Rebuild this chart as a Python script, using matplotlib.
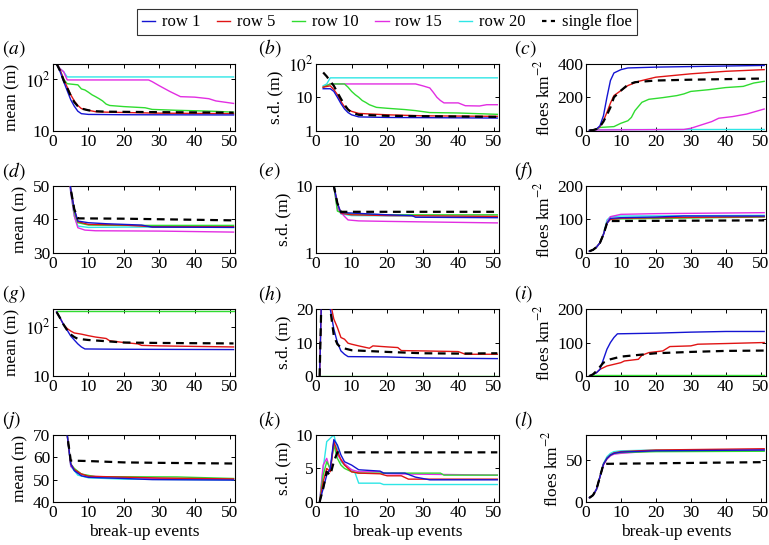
import numpy as np
import matplotlib
matplotlib.use("Agg")
import matplotlib.pyplot as plt
from matplotlib.lines import Line2D

plt.rcParams['font.family'] = ['Liberation Serif', 'DejaVu Serif']
plt.rcParams['mathtext.fontset'] = 'stix'
plt.rcParams['font.size'] = 12.5

# (x, y) points, one list per series and panel
# (a) mean, log
A1 = [(1, 200), (2, 140), (3, 90), (4, 60), (5, 40), (6, 30), (7, 24), (8, 21.5), (10, 20.8), (20, 20.5), (51, 20.3)]
A5 = [(1, 200), (2, 150), (3, 100), (4, 70), (5, 50), (6, 38), (7, 31), (8, 27), (10, 25), (12, 23.5), (15, 23), (30, 22), (51, 21.5)]
AS = [(1, 200), (2, 145), (3, 95), (4, 68), (5, 48), (6, 36), (7, 30), (8, 27), (10, 25), (12, 24), (15, 23.5), (30, 23), (51, 22.5)]
A10 = [(1, 200), (2, 150), (3, 100), (4, 82), (7, 78), (8, 65), (9, 62), (10, 56), (11, 50), (12, 46), (13, 42), (14, 38), (15, 33), (16, 31), (20, 29.5), (26, 28), (28, 26), (35, 25), (45, 24), (51, 23)]
A15 = [(1, 200), (2, 160), (3, 140), (4, 97), (27, 97), (28, 90), (30, 75), (33, 58), (36, 46), (40, 45), (44, 42), (46, 38), (51, 34)]
A20 = [(1, 200), (2, 160), (3, 140), (4, 111), (51, 111)]
# (b) s.d., log
B1 = [(2, 18), (4, 18), (5, 15), (6, 10), (7, 6.5), (8, 4.5), (9, 3.5), (10, 3.0), (12, 2.6), (20, 2.5), (51, 2.4)]
B5 = [(2, 20), (4, 22), (5, 17), (6, 12), (7, 7.5), (8, 5.2), (9, 4.3), (10, 3.8), (12, 3.3), (20, 3.0), (30, 2.8), (51, 2.7)]
BS = [(2, 55), (3, 42), (4, 30), (5, 22), (6, 14), (7, 9), (8, 6), (9, 4.3), (10, 3.5), (12, 3.0), (20, 2.8), (51, 2.6)]
B10 = [(2, 20), (4, 25), (8, 25), (9, 20), (10, 15), (11, 12), (12, 10), (13, 8), (14, 7), (15, 6), (17, 5), (20, 4.7), (25, 4.3), (28, 4.0), (32, 3.5), (40, 3.4), (51, 3.1)]
B15 = [(2, 20), (4, 25), (28, 25), (30, 22), (32, 19), (33, 14), (34, 10), (35, 8), (36, 6.8), (40, 6.8), (42, 5.6), (46, 5.5), (48, 6.0), (51, 6.0)]
B20 = [(2, 22), (3, 25), (4, 38), (51, 38)]
# (c) floes km^-2
C1 = [(1, 2), (2, 4), (3, 10), (4, 30), (5, 90), (6, 200), (7, 300), (8, 345), (10, 365), (12, 375), (20, 380), (35, 385), (51, 390)]
C5 = [(1, 2), (2, 4), (3, 10), (4, 25), (5, 60), (6, 110), (7, 165), (8, 210), (9, 225), (10, 240), (12, 270), (15, 295), (20, 320), (30, 340), (40, 355), (51, 365)]
CS = [(1, 2), (2, 4), (3, 10), (4, 25), (5, 55), (6, 95), (7, 140), (8, 200), (9, 220), (10, 240), (12, 275), (14, 290), (20, 300), (30, 305), (51, 312)]
C10 = [(1, 2), (2, 5), (3, 10), (4, 20), (8, 25), (9, 35), (10, 45), (12, 60), (13, 80), (14, 120), (16, 170), (18, 188), (22, 198), (26, 210), (28, 220), (30, 235), (35, 245), (40, 258), (45, 265), (48, 285), (51, 295)]
C15 = [(1, 2), (2, 4), (3, 5), (28, 8), (30, 15), (33, 35), (36, 55), (38, 75), (42, 85), (46, 100), (51, 130)]
C20 = [(1, 2), (2, 5), (3, 7), (51, 8)]
# (d) mean
D1 = [(3, 80), (4, 58), (5, 49), (6, 43), (7, 39.5), (10, 39.0), (15, 38.7), (20, 38.5), (25, 38.3), (28, 37.7), (51, 37.6)]
D5 = [(3, 80), (4, 58), (5, 49), (6, 43), (7, 39.3), (10, 38.5), (20, 38.3), (28, 37.8), (51, 37.8)]
DS = [(3, 80), (4, 58), (5, 49), (6, 43), (7, 40.3), (20, 40.2), (51, 39.7)]
D10 = [(3, 80), (4, 58), (5, 49), (6, 42), (7, 39), (10, 38.3), (20, 38.2), (51, 38.2)]
D15 = [(3, 80), (4, 58), (5, 48), (6, 41), (7, 37.5), (9, 36.8), (12, 36.6), (30, 36.5), (51, 36.2)]
D20 = [(3, 80), (4, 58), (5, 48), (6, 41), (7, 38), (10, 37.6), (20, 37.7), (51, 37.6)]
# (e) s.d., log
E1 = [(3, 40), (4, 20), (5, 10), (6, 5.5), (7, 4.0), (20, 3.7), (27, 3.6), (28, 3.4), (51, 3.35)]
E5 = [(3, 40), (4, 20), (5, 10), (6, 5.5), (7, 3.9), (10, 3.7), (20, 3.6), (51, 3.5)]
ES = [(3, 40), (4, 20), (5, 10), (6, 5.5), (7, 4.1), (51, 4.1)]
E10 = [(3, 40), (4, 20), (5, 10), (6, 4.2), (7, 4.0), (10, 3.8), (20, 3.7), (51, 3.7)]
E15 = [(3, 40), (4, 20), (5, 10), (6, 4.6), (8, 3.5), (9, 3.1), (12, 3.0), (20, 2.95), (30, 2.9), (51, 2.8)]
E20 = [(3, 40), (4, 20), (5, 11), (6, 4.8), (7, 3.8), (10, 3.6), (51, 3.5)]
# (f) floes km^-2
F1 = [(1, 5), (2, 9), (3, 17), (4, 30), (5, 55), (6, 88), (7, 103), (10, 105), (20, 107), (28, 110), (51, 110)]
F5 = [(1, 5), (2, 9), (3, 17), (4, 30), (5, 55), (6, 88), (7, 100), (10, 103), (20, 105), (51, 108)]
FS = [(1, 5), (2, 9), (3, 17), (4, 30), (5, 55), (6, 88), (7, 95), (51, 97)]
F10 = [(1, 5), (2, 9), (3, 17), (4, 30), (5, 55), (6, 90), (7, 101), (51, 107)]
F15 = [(1, 5), (2, 9), (3, 17), (4, 30), (5, 55), (6, 92), (7, 108), (10, 115), (20, 117), (51, 120)]
F20 = [(1, 5), (2, 9), (3, 17), (4, 30), (5, 56), (6, 98), (7, 108), (10, 110), (51, 112)]
# (g) mean, log; rows 15 and 20 are not visible
G1 = [(1, 200), (2, 150), (3, 110), (4, 85), (5, 65), (6, 54), (7, 45), (8, 39), (9, 35.5), (20, 35), (51, 34.5)]
G5 = [(1, 200), (2, 150), (3, 110), (4, 92), (5, 82), (6, 75), (8, 71), (10, 66), (12, 62), (15, 58), (16, 52), (20, 48), (24, 45), (25, 42), (30, 41), (40, 40), (51, 39)]
GS = [(1, 200), (2, 150), (3, 110), (4, 85), (5, 70), (6, 62), (7, 57), (10, 54), (15, 51), (20, 48), (30, 47), (51, 46)]
G10 = [(1, 205), (51, 205)]
G15 = []
G20 = []
# (h) s.d.
H1 = [(1, 0), (2, 45), (3, 30), (4, 20), (5, 14), (6, 10), (7, 7.5), (8, 6.5), (9, 5.8), (20, 5.7), (30, 5.4), (40, 5.3), (51, 5.2)]
H5 = [(1, 0), (2, 45), (3, 30), (4, 22), (5, 17), (6, 14.5), (7, 11.5), (8, 11), (9, 9.8), (10, 9.5), (12, 9), (15, 8.3), (16, 9), (20, 8.7), (23, 8.5), (24, 7.6), (30, 7.5), (40, 7.3), (42, 6.5), (51, 6.5)]
HS = [(1, 0), (2, 45), (3, 30), (4, 20), (5, 12), (6, 9.5), (7, 8.5), (10, 7.7), (20, 7.2), (30, 6.8), (40, 6.7), (51, 6.8)]
H10 = [(1, 0), (51, 0)]
H15 = []
H20 = []
# (i) floes km^-2
I1 = [(1, 0), (2, 5), (3, 10), (4, 20), (5, 50), (6, 80), (7, 100), (8, 115), (9, 126), (20, 128), (30, 131), (40, 133), (51, 133)]
I5 = [(1, 0), (2, 5), (3, 10), (4, 20), (6, 30), (8, 35), (10, 40), (11, 45), (15, 50), (16, 62), (18, 70), (22, 75), (24, 88), (30, 90), (32, 95), (40, 97), (51, 100)]
IS = [(1, 0), (2, 5), (3, 15), (5, 40), (7, 50), (10, 58), (15, 63), (20, 68), (30, 72), (40, 75), (51, 76)]
I10 = [(1, 2), (51, 2)]
I15 = []
I20 = []
# (j) mean
J1 = [(3, 85), (4, 70), (5, 57), (6, 54), (8, 51.7), (10, 51), (20, 50.5), (28, 50), (51, 49.8)]
J5 = [(3, 85), (4, 70), (5, 57), (6, 54.5), (8, 52.5), (10, 51.5), (30, 50.7), (51, 50.3)]
JS = [(3, 85), (4, 70), (5, 58.5), (10, 58.3), (15, 58), (20, 57.7), (30, 57.5), (51, 57.2)]
J10 = [(3, 85), (4, 70), (5, 57), (6, 55), (8, 52.5), (12, 51.3), (35, 51.2), (51, 50.5)]
J15 = [(3, 85), (4, 70), (5, 56), (7, 53), (10, 51.5), (30, 50.5), (51, 50.2)]
J20 = [(3, 85), (4, 70), (5, 56), (7, 52), (10, 50.8), (20, 50.2), (51, 49.8)]
# (k) s.d.
K1 = [(1, 0), (2, 2), (3, 4), (4, 5), (5, 9.3), (6, 8.5), (7, 7), (8, 6), (10, 5.5), (12, 4.8), (18, 4.6), (19, 4.3), (25, 4.3), (28, 3.7), (32, 3.3), (51, 3.3)]
K5 = [(1, 0), (2, 3), (3, 5), (4, 4.5), (5, 9), (6, 7.5), (7, 6.3), (8, 5.5), (10, 4.5), (12, 4.3), (18, 4.2), (20, 3.9), (24, 3.9), (26, 3.4), (51, 3.4)]
KS = [(1, 0), (2, 2), (3, 4.5), (4, 4.0), (5, 6), (6, 7.4), (51, 7.4)]
K10 = [(1, 0), (2, 4), (3, 6), (4, 5), (5, 8.5), (6, 6.5), (7, 5.5), (8, 5), (10, 4.5), (12, 4.3), (35, 4.3), (36, 4.0), (51, 4.0)]
K15 = [(1, 0), (2, 5.5), (3, 6.5), (4, 4.7), (5, 8.8), (6, 7), (8, 5.7), (10, 4.8), (12, 4.5), (18, 4.5), (20, 4.2), (51, 4.0)]
K20 = [(1, 0), (2, 5), (3, 9), (4, 9.5), (5, 10), (6, 8), (7, 6), (8, 5.5), (10, 4.8), (11, 4.3), (12, 2.8), (18, 2.8), (19, 2.6), (51, 2.6)]
# (l) floes km^-2
L1 = [(1, 5), (2, 8), (3, 15), (4, 30), (5, 45), (6, 52), (7, 56), (8, 58), (10, 59.5), (20, 61), (51, 62)]
L5 = [(1, 5), (2, 8), (3, 15), (4, 30), (5, 45), (6, 52), (7, 56), (8, 58.5), (10, 60), (20, 62), (51, 63.5)]
LS = [(1, 5), (2, 8), (3, 15), (4, 30), (5, 45), (6, 45.5), (51, 47.5)]
L10 = [(1, 5), (2, 8), (3, 15), (4, 30), (5, 45), (6, 52), (7, 56), (8, 58), (10, 59), (20, 60), (51, 60.5)]
L15 = [(1, 5), (2, 8), (3, 15), (4, 30), (5, 44), (6, 51), (7, 55), (8, 57), (10, 58), (20, 61), (51, 62)]
L20 = [(1, 5), (2, 8), (3, 15), (4, 30), (5, 46), (6, 54), (7, 58), (8, 60), (10, 61), (20, 62), (51, 61.5)]

labels = ['row 1', 'row 5', 'row 10', 'row 15', 'row 20', 'single floe']
colors = ['#1414d2', '#e01414', '#30dc30', '#e22ee2', '#2ee6e6', 'k']

# panel table: letter, series (row1,row5,row10,row15,row20,single), ylabel, ylim, log, ticks, ticklabels
panels = [
    ('a', [A1, A5, A10, A15, A20, AS], 'mean (m)', (10, 200), True, [10, 100], ['10', '$10^2$']),
    ('b', [B1, B5, B10, B15, B20, BS], 's.d. (m)', (1, 100), True, [1, 10, 100], ['1', '10', '$10^2$']),
    ('c', [C1, C5, C10, C15, C20, CS], 'floes km$^{-2}$', (0, 400), False, [0, 200, 400], None),
    ('d', [D1, D5, D10, D15, D20, DS], 'mean (m)', (30, 50), False, [30, 40, 50], None),
    ('e', [E1, E5, E10, E15, E20, ES], 's.d. (m)', (1, 10), True, [1, 10], ['1', '10']),
    ('f', [F1, F5, F10, F15, F20, FS], 'floes km$^{-2}$', (0, 200), False, [0, 100, 200], None),
    ('g', [G1, G5, G10, G15, G20, GS], 'mean (m)', (10, 230), True, [10, 100], ['10', '$10^2$']),
    ('h', [H1, H5, H10, H15, H20, HS], 's.d. (m)', (0, 20), False, [0, 10, 20], None),
    ('i', [I1, I5, I10, I15, I20, IS], 'floes km$^{-2}$', (0, 200), False, [0, 100, 200], None),
    ('j', [J1, J5, J10, J15, J20, JS], 'mean (m)', (40, 70), False, [40, 50, 60, 70], None),
    ('k', [K1, K5, K10, K15, K20, KS], 's.d. (m)', (0, 10), False, [0, 5, 10], None),
    ('l', [L1, L5, L10, L15, L20, LS], 'floes km$^{-2}$', (0, 80), False, [0, 50], None),
]

fig = plt.figure(figsize=(7.69, 5.45), dpi=100)
lefts = [0.069, 0.411, 0.762]
widths = [0.237, 0.238, 0.234]
bottoms = [0.760, 0.536, 0.310, 0.079]
h = 0.123

for k, (letter, series, ylab, ylim, logy, ticks, tlabels) in enumerate(panels):
    r, c = divmod(k, 3)
    ax = fig.add_axes([lefts[c], bottoms[r], widths[c], h])
    # draw row 20 first so row 1 ends up on top, dashed line last
    for j in [4, 3, 2, 1, 0]:
        if not series[j]:
            continue
        xs, ys = zip(*series[j])
        ax.plot(xs, ys, color=colors[j], lw=1.0, zorder=2 + (4 - j))
    xs, ys = zip(*series[5])
    ax.plot(xs, ys, color='k', lw=1.6, ls=(0, (3.5, 2.5)), zorder=8)
    if logy:
        ax.set_yscale('log')
        ax.yaxis.set_minor_locator(matplotlib.ticker.NullLocator())
    ax.set_ylim(*ylim)
    ax.set_yticks(ticks)
    if tlabels is not None:
        ax.set_yticklabels(tlabels)
    ax.set_xlim(0, 51.5)
    ax.set_xticks([0, 10, 20, 30, 40, 50])
    ax.tick_params(direction='in', top=True, right=True, length=3, width=0.7, pad=2)
    for s in ax.spines.values():
        s.set_linewidth(0.8)
    ax.set_ylabel(ylab, labelpad=3)
    if r == 3:
        ax.set_xlabel('break-up events', labelpad=2)
    x0 = [0.003, 0.336, 0.668][c]
    fig.text(x0, bottoms[r] + h + 0.028, '$(%s)$' % letter, fontsize=14, va='center')

handles = [Line2D([], [], color=colors[j], lw=1.0) for j in range(5)]
handles.append(Line2D([], [], color='k', lw=1.6, ls=(0, (2.0, 2.0))))
leg = fig.legend(handles, labels, loc='upper center', ncol=6, bbox_to_anchor=(0.503, 0.998),
                 frameon=True, fancybox=False, edgecolor='k', handlelength=0.8,
                 handletextpad=0.4, columnspacing=1.0, borderpad=0.3, fontsize=12)
leg.get_frame().set_linewidth(0.8)

fig.savefig('out.png', dpi=100)
